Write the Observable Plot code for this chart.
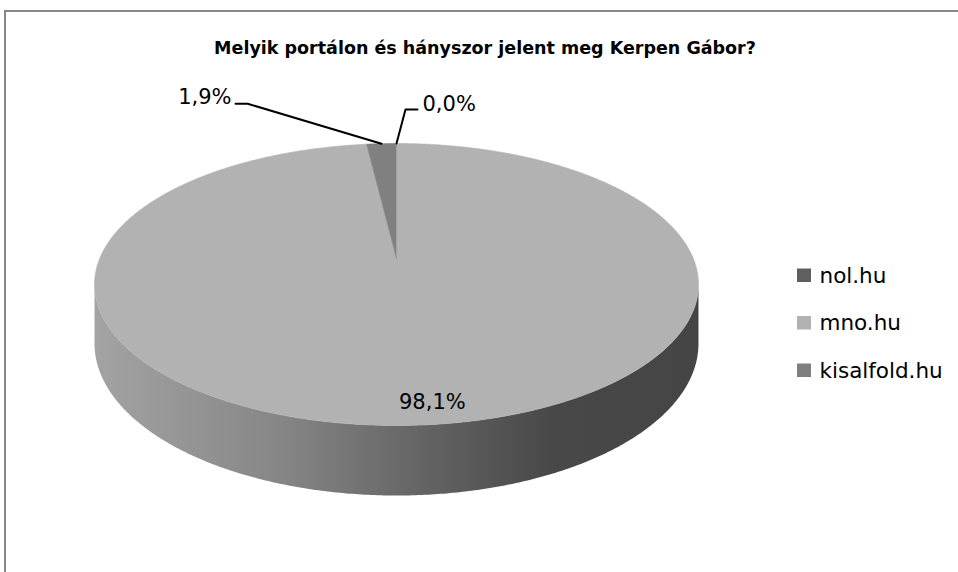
<!DOCTYPE html>
<html><head><meta charset="utf-8">
<script src="https://cdn.jsdelivr.net/npm/d3@7"></script>
<script src="https://cdn.jsdelivr.net/npm/@observablehq/plot@0.6"></script>
<style>
html,body{margin:0;padding:0;background:#fff;}
#wrap{position:relative;width:958px;height:572px;overflow:hidden;}
#frame{position:absolute;left:4px;top:10px;right:-4px;bottom:-4px;border-top:2px solid #878787;border-left:2px solid #878787;pointer-events:none;}
</style></head><body>
<div id="wrap"><div id="chart"></div><div id="frame"></div></div>
<script>
// ---- data ----
const title = "Melyik portálon és hányszor jelent meg Kerpen Gábor?";
const categories = ["nol.hu", "mno.hu", "kisalfold.hu"];
const values = [0.0, 98.1, 1.9];
const labels = ["0,0%", "98,1%", "1,9%"];
const colors = ["#5f5f5f", "#b2b2b2", "#808080"];

// ---- layout (perspective projection of the pie disc) ----
const CX = 396, A = 296.8, B = 88.63, C = 258, D = 57.1, K = -0.1844;
const P = (u, v, z = 0) => { const w = 1 + K * v; return [CX + A * u / w, (B * v + C + D * z) / w]; };
const rim = (t, z = 0) => P(Math.sin(t), -Math.cos(t), z);
const thR = Math.acos(K), thL = 2 * Math.PI - Math.acos(K);
const labelLayout = [
  {type: "leader", elbow: [9, -34], end: [21, -34], anchor: "start", tdx: 5, tdy: 1},
  {type: "inside", r: 0.85, dx: 18, dy: 13, anchor: "middle"},
  {type: "leader", elbow: [-134, -40], end: [-146, -40], anchor: "end", tdx: -4, tdy: 0}
];
const legendX = 797, legendBase0 = 282, legendStep = 47.5;

const data = categories.map((c, i) => ({name: c, value: values[i], label: labels[i], i}));
const arcs = d3.pie().sort(null).value(d => d.value).startAngle(0).endAngle(2 * Math.PI)(data);
const STEP = Math.PI / 360;

const topRows = [], wallRows = [], leaderRows = [], labelRows = [];
arcs.forEach(a => {
  const name = a.data.name;
  if (a.endAngle > a.startAngle) {
    const [ax, ay] = P(0, 0);
    topRows.push({name, x: ax, y: ay});
    const n = Math.max(2, Math.ceil((a.endAngle - a.startAngle) / STEP));
    for (let k = 0; k <= n; k++) {
      const [x, y] = rim(a.startAngle + (a.endAngle - a.startAngle) * k / n);
      topRows.push({name, x, y});
    }
    const lo = Math.max(a.startAngle, thR), hi = Math.min(a.endAngle, thL);
    if (hi > lo) {
      const m = Math.max(2, Math.ceil((hi - lo) / STEP));
      for (let k = 0; k <= m; k++) { const [x, y] = rim(lo + (hi - lo) * k / m, 0); wallRows.push({key: name, x, y}); }
      for (let k = m; k >= 0; k--) { const [x, y] = rim(lo + (hi - lo) * k / m, 1); wallRows.push({key: name, x, y}); }
    }
  }
  const L = labelLayout[a.data.i];
  const mid = (a.startAngle + a.endAngle) / 2;
  if (L.type === "leader") {
    const [rx, ry] = rim(mid);
    leaderRows.push({name, x: rx, y: ry});
    leaderRows.push({name, x: rx + L.elbow[0], y: ry + L.elbow[1]});
    leaderRows.push({name, x: rx + L.end[0], y: ry + L.end[1]});
    labelRows.push({label: a.data.label, anchor: L.anchor, x: rx + L.end[0] + L.tdx, y: ry + L.end[1] + L.tdy});
  } else {
    const [px, py] = P(L.r * Math.sin(mid), -L.r * Math.cos(mid));
    labelRows.push({label: a.data.label, anchor: L.anchor, x: px + L.dx, y: py + L.dy});
  }
});
const legendRows = categories.map((c, i) => ({name: c, base: legendBase0 + i * legendStep}));

const defsMark = () => {
  const defs = d3.create("svg:defs");
  const g = defs.append("linearGradient").attr("id", "wallGrad").attr("x1", 0).attr("x2", 1).attr("y1", 0).attr("y2", 0);
  [[0, "#a3a3a3"], [0.3, "#878787"], [0.55, "#636363"], [0.76, "#484848"], [1, "#454545"]]
    .forEach(([o, c]) => g.append("stop").attr("offset", o).attr("stop-color", c));
  return defs.node();
};

const font = "DejaVu Sans";
const chart = Plot.plot({
  width: 958, height: 572, margin: 0,
  x: {type: "identity", axis: null},
  y: {type: "identity", axis: null},
  color: {type: "ordinal", domain: categories, range: colors},
  style: {background: "#fff"},
  marks: [
    defsMark,
    Plot.line(wallRows, {x: "x", y: "y", z: "key", fill: "url(#wallGrad)", stroke: "none"}),
    Plot.line(topRows, {x: "x", y: "y", z: "name", fill: "name", stroke: "name", strokeWidth: 0.6}),
    Plot.line(leaderRows, {x: "x", y: "y", z: "name", stroke: "#000", strokeWidth: 2}),
    ...["start", "middle", "end"].map(anchor =>
      Plot.text(labelRows.filter(d => d.anchor === anchor), {x: "x", y: "y", text: "label", textAnchor: anchor, lineAnchor: "bottom", fontFamily: font, fontSize: 21, fill: "#000"})),
    Plot.text([title], {frameAnchor: "top", text: d => d, dx: 5.5, dy: 53, lineAnchor: "bottom", fontFamily: font, fontWeight: "bold", fontSize: 17.5, fill: "#000"}),
    Plot.rect(legendRows, {x1: () => legendX, x2: () => legendX + 14, y1: d => d.base - 13.5, y2: d => d.base, fill: "name"}),
    Plot.text(legendRows, {x: () => legendX + 22, y: "base", text: "name", textAnchor: "start", lineAnchor: "bottom", fontFamily: font, fontSize: 21.5, fill: "#000"})
  ]
});
document.getElementById("chart").appendChild(chart);
</script>
</body></html>
